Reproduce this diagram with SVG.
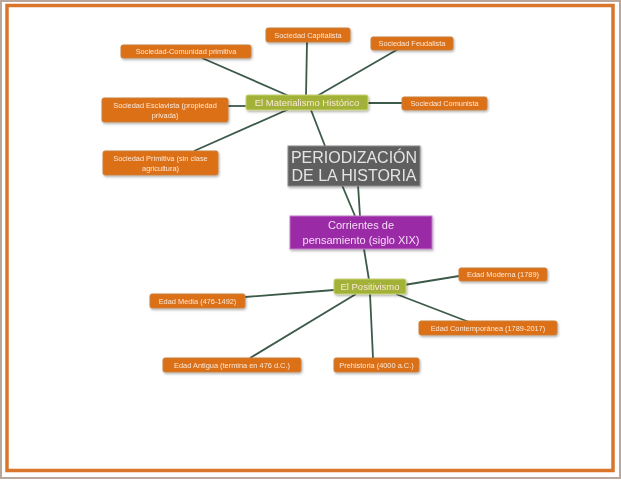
<svg xmlns="http://www.w3.org/2000/svg" width="621" height="480" viewBox="0 0 621 480">
<defs>
<style>
.o{fill:#dc6f16;stroke:#c8813f;stroke-width:1}
.g{fill:#a2b138;stroke:#c9d27a;stroke-width:1}
.t{font-family:"Liberation Sans",Arial,sans-serif;fill:#fbe8d8;text-anchor:middle}
.s{font-size:7.4px}
.c line{stroke:#3c5a48;stroke-width:1.8}
</style>
<filter id="sh" x="-10%" y="-20%" width="130%" height="160%"><feDropShadow dx="1" dy="1.5" stdDeviation="1" flood-color="#000" flood-opacity="0.3"/></filter>
</defs>
<rect x="0" y="0" width="621" height="480" fill="#fff"/>
<rect x="1" y="1" width="619" height="477" fill="none" stroke="#b8a79a" stroke-width="2"/>
<rect x="7" y="5.5" width="606" height="465" fill="#fff" stroke="#d9762c" stroke-width="3.5"/>
<g class="c">
<line x1="202" y1="58" x2="289" y2="96"/>
<line x1="307" y1="42" x2="306" y2="96"/>
<line x1="400" y1="48" x2="317" y2="96"/>
<line x1="368" y1="103" x2="402" y2="103"/>
<line x1="228" y1="106" x2="246" y2="106"/>
<line x1="194" y1="151" x2="289" y2="109"/>
<line x1="311" y1="110" x2="325" y2="146"/>
<line x1="342" y1="185" x2="355" y2="216"/>
<line x1="358" y1="185" x2="360" y2="216"/>
<line x1="364" y1="249" x2="369" y2="280"/>
<line x1="404" y1="285" x2="459" y2="276"/>
<line x1="245" y1="297" x2="334" y2="290"/>
<line x1="396" y1="294" x2="469" y2="322"/>
<line x1="356" y1="294" x2="250" y2="358"/>
<line x1="370" y1="294" x2="373" y2="358"/>
</g>
<g id="n-capitalista" filter="url(#sh)"><rect class="o" x="266" y="28" width="84" height="14" rx="2"/><text class="t s" x="308" y="37.8">Sociedad Capitalista</text></g>
<g id="n-feudalista" filter="url(#sh)"><rect class="o" x="371" y="37" width="82" height="13" rx="2"/><text class="t s" x="412" y="46.2">Sociedad Feudalista</text></g>
<g id="n-comunidad" filter="url(#sh)"><rect class="o" x="121" y="45" width="130" height="13" rx="2"/><text class="t s" x="186" y="54.2">Sociedad-Comunidad primitiva</text></g>
<g id="n-materialismo" filter="url(#sh)"><rect class="g" x="246" y="95" width="122" height="15" rx="2"/><text class="t" font-size="9.5" x="307" y="105.8">El Materialismo Histórico</text></g>
<g id="n-comunista" filter="url(#sh)"><rect class="o" x="402" y="97" width="85" height="13" rx="2"/><text class="t s" x="444.5" y="106.2">Sociedad Comunista</text></g>
<g id="n-esclavista" filter="url(#sh)"><rect class="o" x="102" y="98" width="126" height="24" rx="2"/><text class="t s" x="165" y="107.5">Sociedad Esclavista (propiedad</text><text class="t s" x="165" y="117.5">privada)</text></g>
<g id="n-primitiva" filter="url(#sh)"><rect class="o" x="103" y="151" width="115" height="24" rx="2"/><text class="t s" x="160.5" y="160.5">Sociedad Primitiva (sin clase</text><text class="t s" x="160.5" y="170.5">agricultura)</text></g>
<g id="n-periodizacion" filter="url(#sh)"><rect x="288" y="146" width="132" height="40" fill="#5e5e5e" stroke="#8a8a8a"/><text class="t" style="fill:#e4e4e4" font-size="16" x="354" y="163">PERIODIZACIÓN</text><text class="t" style="fill:#e4e4e4" font-size="16" x="354" y="181">DE LA HISTORIA</text></g>
<g id="n-corrientes" filter="url(#sh)"><rect x="290" y="216" width="142" height="33" fill="#9b2aa7" stroke="#c07ac8"/><text class="t" style="fill:#f4dcf4" font-size="11" x="361" y="229">Corrientes de</text><text class="t" style="fill:#f4dcf4" font-size="11" x="361" y="244">pensamiento (siglo XIX)</text></g>
<g id="n-positivismo" filter="url(#sh)"><rect class="g" x="334" y="279" width="72" height="15" rx="2"/><text class="t" font-size="9.5" x="370" y="289.8">El Positivismo</text></g>
<g id="n-moderna" filter="url(#sh)"><rect class="o" x="459" y="268" width="88" height="13" rx="2"/><text class="t s" x="503" y="277.2">Edad Moderna (1789)</text></g>
<g id="n-media" filter="url(#sh)"><rect class="o" x="150" y="294" width="95" height="14" rx="2"/><text class="t s" x="197.5" y="303.7">Edad Media (476-1492)</text></g>
<g id="n-contemporanea" filter="url(#sh)"><rect class="o" x="419" y="321" width="138" height="14" rx="2"/><text class="t s" x="488" y="330.7">Edad Contemporánea (1789-2017)</text></g>
<g id="n-antigua" filter="url(#sh)"><rect class="o" x="163" y="358" width="138" height="14" rx="2"/><text class="t s" x="232" y="367.7">Edad Antigua (termina en 476 d.C.)</text></g>
<g id="n-prehistoria" filter="url(#sh)"><rect class="o" x="334" y="358" width="85" height="14" rx="2"/><text class="t s" x="376.5" y="367.7">Prehistoria (4000 a.C.)</text></g>
</svg>
